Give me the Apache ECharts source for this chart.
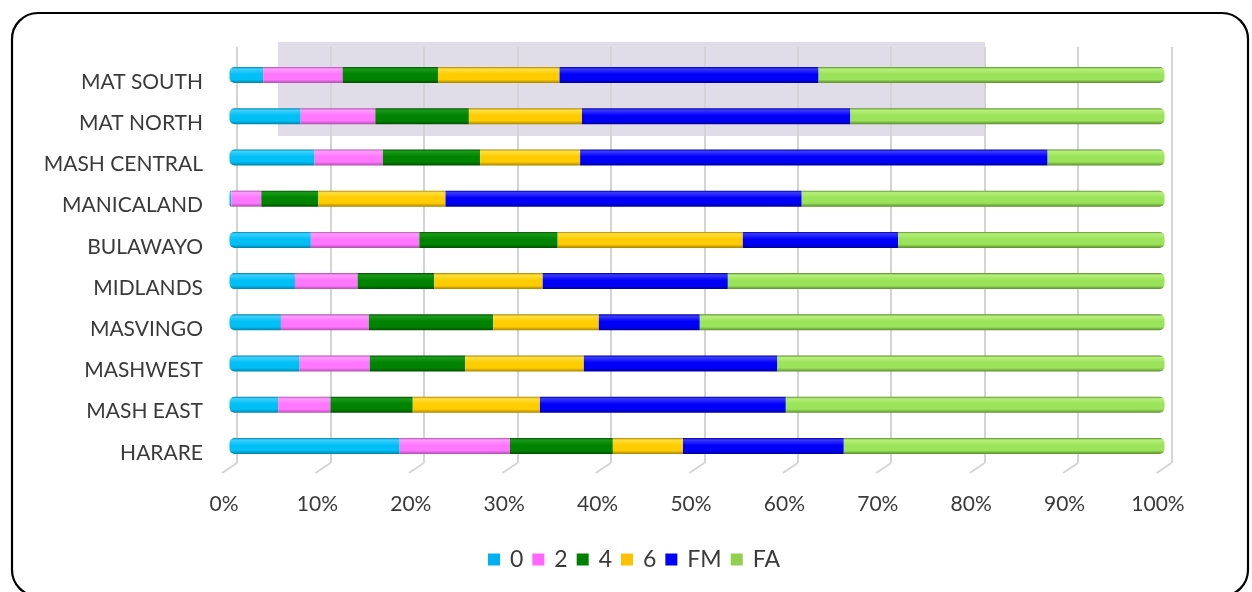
<!DOCTYPE html>
<html>
<head>
<meta charset="utf-8">
<script src="https://cdn.jsdelivr.net/npm/echarts@6/dist/echarts.min.js"></script>
<style>
  html, body { margin: 0; padding: 0; background: #ffffff; }
  #chart { width: 1252px; height: 592px; }
</style>
</head>
<body>
<div id="chart"></div>
<script>
// Regions, top to bottom
const regions = ['MAT SOUTH', 'MAT NORTH', 'MASH CENTRAL', 'MANICALAND', 'BULAWAYO',
                 'MIDLANDS', 'MASVINGO', 'MASHWEST', 'MASH EAST', 'HARARE'];

// Share of each grade per region (%)
const grade0  = [3.6, 7.6, 9.1, 0.2, 8.7, 7.0, 5.5, 7.5, 5.2, 18.2];
const grade2  = [8.5, 8.0, 7.3, 3.2, 11.6, 6.7, 9.4, 7.5, 5.6, 11.8];
const grade4  = [10.2, 10.0, 10.4, 6.1, 14.8, 8.2, 13.3, 10.2, 8.8, 11.0];
const grade6  = [13.0, 12.1, 10.7, 13.6, 19.8, 11.6, 11.3, 12.7, 13.6, 7.5];
const gradeFM = [27.7, 28.7, 50.0, 38.1, 16.6, 19.8, 10.8, 20.7, 26.3, 17.2];
const gradeFA = [37.0, 33.6, 12.5, 38.8, 28.5, 46.7, 49.7, 41.4, 40.5, 34.3];

const seriesNames = ['0', '2', '4', '6', 'FM', 'FA'];
const seriesData = [grade0, grade2, grade4, grade6, gradeFM, gradeFA];

// Axis ticks (%)
const tickValues = [0, 10, 20, 30, 40, 50, 60, 70, 80, 90, 100];

// Base, highlight and shadow tone per series for the cylinder look
const palette = [
  { legend: '#00b0f0', light: '#3fd0ff', base: '#00bff5', dark: '#0082aa' },
  { legend: '#ff66ff', light: '#ff9cff', base: '#ff77ff', dark: '#b04fb0' },
  { legend: '#008000', light: '#1a9a1a', base: '#008400', dark: '#004f00' },
  { legend: '#ffc000', light: '#ffe040', base: '#ffcc00', dark: '#a88400' },
  { legend: '#0000ff', light: '#3a3aff', base: '#0000fa', dark: '#00009a' },
  { legend: '#92d050', light: '#b6f07a', base: '#9be35a', dark: '#5b8c2e' }
];

const FONT = 'Lato';
const TEXT = '#3a3a3a';

function cylinder(p) {
  return new echarts.graphic.LinearGradient(0, 0, 0, 1, [
    { offset: 0, color: p.dark },
    { offset: 0.12, color: p.light },
    { offset: 0.45, color: p.base },
    { offset: 0.78, color: p.base },
    { offset: 1, color: p.dark }
  ]);
}

const barSeries = seriesData.map((data, i) => ({
  name: seriesNames[i],
  type: 'bar',
  stack: 'total',
  xAxisIndex: 0,
  yAxisIndex: 0,
  barWidth: 16,
  data: data,
  color: palette[i].legend,
  itemStyle: {
    color: cylinder(palette[i]),
    borderRadius: i === 0 ? [5, 0, 0, 5] : (i === seriesData.length - 1 ? [0, 5, 5, 0] : 0)
  },
  emphasis: { disabled: true },
  z: 5
}));

// Short slanted floor lines joining the back gridlines to the front axis
const floorSeries = {
  type: 'custom',
  xAxisIndex: 1,
  yAxisIndex: 1,
  data: tickValues.map(v => [v, 0]),
  silent: true,
  z: 1,
  renderItem: function (params, api) {
    const p = api.coord([api.value(0), api.value(1)]);
    return {
      type: 'line',
      shape: { x1: p[0], y1: p[1], x2: p[0] - 15, y2: p[1] + 10 },
      style: { stroke: '#d4d4d4', lineWidth: 2 }
    };
  }
};

const chart = echarts.init(document.getElementById('chart'), null, { renderer: 'canvas' });

chart.setOption({
  animation: false,
  backgroundColor: '#ffffff',
  textStyle: { fontFamily: FONT },
  graphic: [
    {
      type: 'rect',
      z: -10,
      shape: { x: 12, y: 13, width: 1236, height: 583, r: 26 },
      style: { fill: 'none', stroke: '#000000', lineWidth: 2.2 }
    },
    {
      type: 'rect',
      z: -10,
      shape: { x: 278, y: 42, width: 707, height: 94 },
      style: { fill: '#e0dde8' }
    }
  ],
  grid: [
    // bars
    { left: 229.5, right: 87.5, top: 54.4, bottom: 125.4 },
    // back wall gridlines
    { left: 237, right: 80.5, top: 47, bottom: 129 },
    // front labels
    { left: 224, right: 94, top: 61.4, bottom: 118.6 }
  ],
  xAxis: [
    {
      gridIndex: 0, type: 'value', min: 0, max: 100, interval: 10,
      show: false
    },
    {
      gridIndex: 1, type: 'value', min: 0, max: 100, interval: 10,
      axisLine: { show: false }, axisTick: { show: false }, axisLabel: { show: false },
      splitLine: { show: true, lineStyle: { color: '#d4d4d4', width: 2 } }
    },
    {
      gridIndex: 2, type: 'value', min: 0, max: 100, interval: 10,
      axisLine: { show: false }, axisTick: { show: false },
      splitLine: { show: false },
      axisLabel: {
        formatter: '{value}%', margin: 20,
        fontFamily: FONT, fontSize: 21, color: TEXT
      }
    }
  ],
  yAxis: [
    {
      gridIndex: 0, type: 'category', data: regions, inverse: true, show: false
    },
    {
      gridIndex: 1, type: 'value', min: 0, max: 1, show: false
    },
    {
      gridIndex: 2, type: 'category', data: regions, inverse: true,
      axisLine: { show: false }, axisTick: { show: false },
      axisLabel: { margin: 21, fontFamily: FONT, fontSize: 21, color: TEXT }
    }
  ],
  legend: {
    data: seriesNames.map((n, i) => ({ name: n, itemStyle: { color: palette[i].legend } })),
    left: 488,
    top: 548,
    padding: 0,
    icon: 'rect',
    itemWidth: 12,
    itemHeight: 12,
    itemGap: 9,
    textStyle: { fontFamily: FONT, fontSize: 23, color: TEXT, padding: [0, 0, 0, 5] },
    selectedMode: false
  },
  series: [floorSeries, ...barSeries]
});
</script>
</body>
</html>
